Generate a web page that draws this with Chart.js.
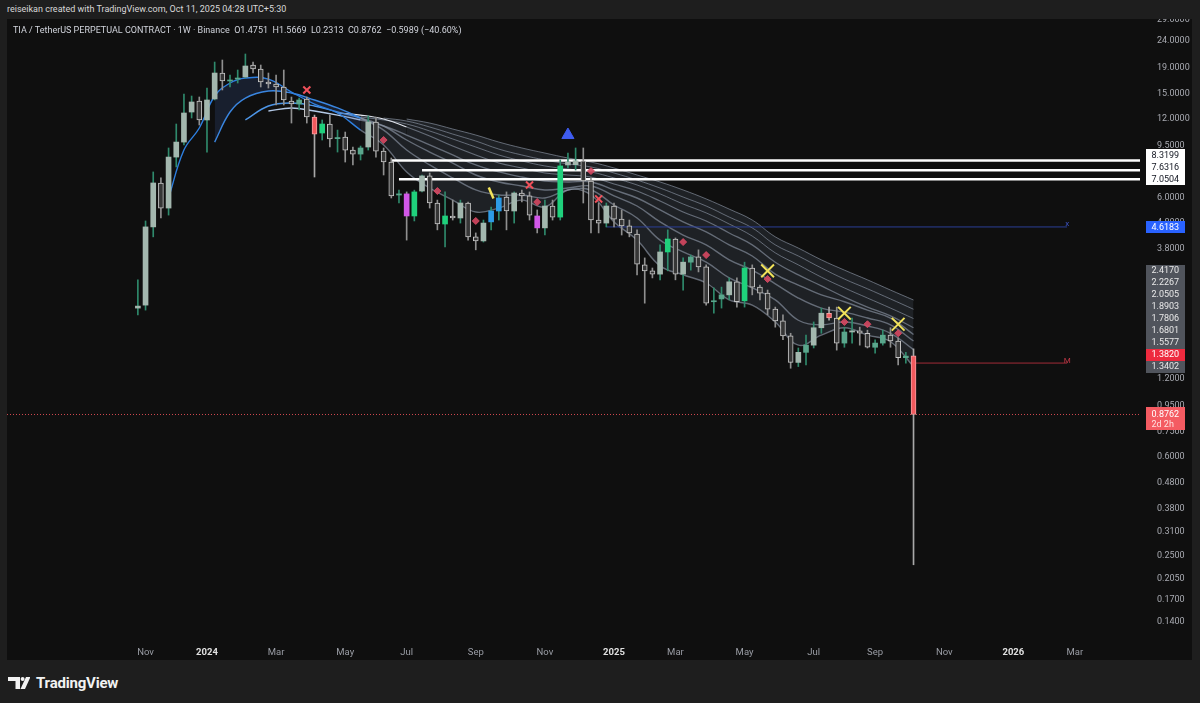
<!DOCTYPE html>
<html>
<head>
<meta charset="utf-8">
<script src="https://cdn.jsdelivr.net/npm/chart.js@4.4.1/dist/chart.umd.min.js"></script>
<style>
  html, body { margin: 0; padding: 0; width: 1200px; height: 703px; overflow: hidden; background: #1e1e1e; font-family: Roboto, "Noto Sans", sans-serif; }
  #credit { position: absolute; left: 7px; top: 4px; font-size: 9px; color: #d8d8d8; }
  #pane { position: absolute; left: 7px; top: 19px; width: 1185px; height: 641px; background: #0f0f0f; }
  #chart { position: absolute; left: 0; top: 0; }
  #legend { position: absolute; left: 6px; top: 6px; font-size: 9px; color: #d1d4dc; white-space: pre; }
  #logo { position: absolute; left: 8px; top: 674px; height: 18px; display: flex; align-items: center; }
  #logo span { margin-left: 6px; font-size: 15px; font-weight: 700; color: #f2f2f2; letter-spacing: -0.2px; }
</style>
</head>
<body>
<div id="credit">reiseikan created with TradingView.com, Oct 11, 2025 04:28 UTC+5:30</div>
<div id="pane">
  <canvas id="chart" width="1185" height="641"></canvas>
  <div id="legend"></div>
</div>
<div id="logo">
  <svg width="22" height="12" viewBox="0 0 22 12"><path d="M0 0H12V12H7.5V4H0Z" fill="#f2f2f2"/><circle cx="14.6" cy="2" r="2" fill="#f2f2f2"/><path d="M18 0H22.5L17 12H12.5Z" fill="#f2f2f2"/></svg>
  <span>TradingView</span>
</div>
<script>
// weekly bars, first one opens on this Monday
const firstBar = '2023-10-30';

const opens = [2.25, 2.31, 4.62, 6.82, 5.46, 8.58, 9.80, 12.79, 14.10, 11.92,
  14.36, 18.07, 16.84, 17.13, 17.45, 19.40, 18.73, 16.69, 16.40, 15.97,
  14.10, 13.73, 14.36, 12.24, 10.62, 11.50, 10.10, 10.25, 9.13, 8.81,
  9.38, 11.71, 9.05, 8.21, 6.13, 6.19, 5.09, 6.35, 7.26, 5.71,
  4.74, 5.09, 5.00, 5.71, 4.23, 4.08, 4.83, 5.32, 6.02, 5.32,
  6.24, 6.08, 5.09, 4.58, 5.56, 5.04, 8.00, 8.02, 8.29, 6.94,
  4.91, 4.78, 5.56, 4.95, 4.66, 4.34, 3.30, 3.13, 3.04, 3.70,
  4.15, 3.04, 3.38, 3.54, 3.24, 2.38, 2.44, 2.53, 2.84, 2.40,
  3.21, 2.71, 2.57, 2.23, 2.01, 1.76, 1.39, 1.52, 1.62, 1.89,
  2.15, 2.06, 1.65, 1.82, 1.84, 1.80, 1.59, 1.65, 1.77, 1.68,
  1.45, 1.4751];
const highs = [2.89, 4.87, 7.52, 7.13, 9.30, 11.50, 15.01, 14.74, 14.61, 15.82,
  19.92, 20.28, 17.76, 18.56, 21.39, 19.92, 19.40, 18.07, 17.76, 18.56,
  14.61, 14.48, 14.61, 12.45, 11.92, 12.45, 10.90, 10.71, 9.38, 9.46,
  12.35, 12.24, 9.30, 8.51, 6.41, 6.30, 6.40, 7.32, 7.45, 5.86,
  6.30, 5.86, 5.86, 5.76, 4.38, 4.91, 5.51, 6.13, 6.30, 6.30,
  6.41, 6.30, 5.37, 5.86, 5.86, 8.36, 8.89, 9.30, 9.30, 7.13,
  5.71, 5.71, 5.71, 5.37, 4.91, 4.50, 3.51, 3.21, 3.94, 4.50,
  4.19, 3.51, 3.60, 3.77, 3.30, 2.69, 2.71, 2.94, 2.94, 3.38,
  3.30, 2.76, 2.64, 2.27, 2.12, 1.80, 1.58, 1.77, 1.99, 2.25,
  2.27, 2.27, 1.90, 2.06, 1.90, 1.85, 1.70, 1.85, 1.89, 1.73,
  1.52, 1.5669];
const lows = [2.12, 2.21, 4.23, 5.00, 5.13, 7.86, 9.55, 12.13, 11.40, 8.97,
  14.23, 15.55, 15.97, 16.54, 17.29, 18.07, 15.97, 15.82, 13.61, 13.61,
  11.60, 13.02, 11.60, 7.19, 9.98, 9.38, 8.97, 8.21, 8.00, 8.36,
  9.13, 8.58, 7.32, 5.97, 5.71, 4.11, 4.87, 6.30, 5.46, 4.50,
  3.87, 4.91, 4.78, 4.11, 3.77, 4.04, 4.50, 4.91, 4.50, 4.78,
  5.76, 4.91, 4.38, 4.30, 4.91, 4.91, 7.79, 7.65, 5.71, 4.38,
  4.38, 4.62, 4.62, 4.30, 4.23, 3.02, 2.35, 2.94, 2.89, 3.13,
  2.89, 2.64, 3.15, 3.10, 2.31, 2.15, 2.25, 2.42, 2.27, 2.27,
  2.53, 2.42, 2.12, 1.90, 1.70, 1.32, 1.34, 1.36, 1.58, 1.80,
  2.02, 1.55, 1.59, 1.65, 1.62, 1.58, 1.51, 1.62, 1.59, 1.36,
  1.38, 0.2313];
const closes = [2.29, 4.62, 6.82, 5.46, 8.58, 9.80, 12.68, 13.98, 11.92, 14.23,
  18.07, 16.84, 16.99, 17.29, 19.23, 18.73, 16.69, 16.40, 15.97, 14.23,
  13.73, 14.23, 12.24, 10.52, 11.50, 10.07, 10.20, 9.13, 8.81, 9.30,
  11.71, 9.05, 8.21, 6.08, 6.19, 5.09, 6.30, 7.26, 5.71, 4.74,
  5.09, 5.00, 5.71, 4.23, 4.08, 4.78, 5.32, 5.97, 5.32, 6.24,
  6.08, 5.13, 4.58, 5.56, 5.04, 7.93, 8.21, 8.30, 6.94, 4.91,
  4.78, 5.56, 4.95, 4.66, 4.38, 3.32, 3.13, 3.04, 3.70, 4.15,
  3.04, 3.38, 3.54, 3.24, 2.35, 2.40, 2.53, 2.84, 2.38, 3.21,
  2.71, 2.57, 2.23, 2.01, 1.76, 1.39, 1.52, 1.62, 1.89, 2.15,
  2.06, 1.65, 1.82, 1.84, 1.80, 1.59, 1.65, 1.77, 1.68, 1.45,
  1.47, 0.8762];

// bars painted by the signal indicator
const paintedBars = { 12: 'teal', 13: 'teal', 21: 'teal', 23: 'red', 24: 'green', 26: 'teal', 29: 'teal',
  34: 'teal', 35: 'magenta', 36: 'green', 40: 'green', 46: 'blue', 47: 'blue', 52: 'magenta', 55: 'green',
  69: 'green', 72: 'teal', 75: 'teal', 76: 'teal', 79: 'green', 87: 'teal', 90: 'red', 92: 'teal',
  96: 'teal', 97: 'teal', 100: 'teal', 101: 'red' };

// moving-average ribbon, fastest (A) to slowest (H), sampled on these weeks
const ribbonWeeks = [4, 6, 8, 10, 12, 14, 17, 20, 23, 26, 29, 32, 35, 38, 41, 44, 47, 50, 53, 56,
  59, 62, 65, 68, 71, 74, 77, 80, 83, 86, 89, 92, 95, 98, 101];
const ribbonA = [5.97, 9.13, 11.10, 14.74, 16.54, 17.29, 17.13, 15.27, 13.73, 12.68, 10.90, 9.55, 7.52, 6.52, 5.86, 5.27, 5.46, 5.86, 5.51, 6.41,
  6.13, 4.83, 4.11, 3.27, 3.02, 2.81, 2.42, 2.31, 1.99, 1.62, 1.77, 1.89, 1.77, 1.67, 1.3402];
const ribbonB = [null, null, null, 9.80, 12.79, 14.48, 15.41, 15.14, 14.23, 13.26, 12.13, 10.90, 9.13, 8.00, 7.13, 6.41, 6.13, 6.13, 5.97, 6.41,
  6.41, 5.61, 5.00, 4.11, 3.70, 3.38, 2.94, 2.69, 2.42, 2.02, 1.94, 1.99, 1.92, 1.80, 1.5577];
const ribbonC = [null, null, null, null, null, 11.92, 13.49, 13.85, 13.49, 12.79, 12.13, 11.30, 9.98, 8.97, 8.14, 7.32, 6.88, 6.64, 6.41, 6.52,
  6.64, 6.08, 5.56, 4.83, 4.30, 3.94, 3.45, 3.15, 2.79, 2.46, 2.25, 2.17, 2.06, 1.94, 1.6801];
const ribbonD = [null, null, null, null, null, null, 12.90, 13.26, 12.90, 12.45, 11.92, 11.30, 10.43, 9.55, 8.74, 8.00, 7.52, 7.19, 6.94, 6.88,
  6.88, 6.41, 5.97, 5.37, 4.83, 4.42, 3.94, 3.57, 3.04, 2.76, 2.53, 2.38, 2.21, 2.06, 1.7806];
const ribbonE = [null, null, null, null, null, null, null, null, null, 12.68, 12.45, 12.02, 11.20, 10.34, 9.46, 8.74, 8.14, 7.79, 7.45, 7.32,
  7.19, 6.76, 6.35, 5.81, 5.27, 4.87, 4.38, 3.94, 3.38, 3.02, 2.74, 2.48, 2.27, 2.10, 1.8903];
const ribbonF = [null, null, null, null, null, null, null, null, null, null, 12.24, 11.92, 11.50, 10.81, 10.07, 9.38, 8.74, 8.29, 7.93, 7.72,
  7.52, 7.13, 6.70, 6.19, 5.66, 5.23, 4.74, 4.26, 3.67, 3.30, 2.96, 2.69, 2.46, 2.25, 2.0505];
const ribbonG = [null, null, null, null, null, null, null, null, null, null, null, 12.13, 11.81, 11.20, 10.52, 9.89, 9.21, 8.74, 8.36, 8.07,
  7.86, 7.45, 7.00, 6.52, 6.02, 5.56, 5.04, 4.58, 3.94, 3.57, 3.21, 2.91, 2.67, 2.44, 2.2267];
const ribbonH = [null, null, null, null, null, null, null, null, null, null, null, null, 12.02, 11.60, 11.00, 10.43, 9.80, 9.30, 8.89, 8.51,
  8.21, 7.79, 7.32, 6.88, 6.41, 5.92, 5.41, 4.91, 4.23, 3.83, 3.45, 3.15, 2.89, 2.64, 2.4170];

// drawn horizontal levels
const levelValues = [8.3199, 7.6316, 7.0504];
const levelFromWeeks = [33, 37, 34];
const blueLevel = 4.6183, blueLevelWeeks = [61, 121];
const redLevel = 1.3820, redLevelWeeks = [101, 121];
const countdown = '2d 2h';

// signal markers
const diamondWeeks = [32, 39, 44, 52, 59, 71, 74, 82, 92, 95, 99];
const diamondValues = [9.98, 6.35, 4.87, 5.76, 7.58, 4.04, 3.60, 2.91, 1.99, 1.95, 1.80];
const redCrossWeeks = [22, 51, 60];
const redCrossValues = [15.55, 6.70, 5.92];
const yellowCrossWeeks = [82, 92, 99];
const yellowCrossValues = [3.13, 2.15, 1.95];
const triangleWeeks = [56];
const triangleValues = [10.43];
const penWeeks = [46];
const penValues = [6.24];

// axes
const yTicks = [29, 24, 19, 15, 12, 9.5, 7.5, 6, 4.8, 3.8, 3.0, 2.4, 1.9, 1.5, 1.2, 0.95, 0.75, 0.6, 0.48, 0.38, 0.31, 0.25, 0.205, 0.17, 0.14];
const monthDates = ['2023-11-06', '2024-01-01', '2024-03-04', '2024-05-06', '2024-07-01', '2024-09-02', '2024-11-04',
  '2025-01-06', '2025-03-03', '2025-05-05', '2025-07-07', '2025-09-01', '2025-11-03', '2026-01-05', '2026-03-02', '2026-05-04'];
const monthLabels = ['Nov', '2024', 'Mar', 'May', 'Jul', 'Sep', 'Nov', '2025', 'Mar', 'May', 'Jul', 'Sep', 'Nov', '2026', 'Mar', 'M'];

const xMin = -17.04, xMax = 130.49;
const yMin = 0.11873, yMax = 29.17;

const WEEK = 7 * 864e5;
const monthWeeks = monthDates.map(d => Math.round((Date.parse(d) - Date.parse(firstBar)) / WEEK));
const N = closes.length;
const idx = closes.map((_, i) => i);
const last = N - 1;

const palette = {
  up:      { body: '#a3b7ae', border: '#a3b7ae', wick: '#2f8a6c', bw: 0 },
  down:    { body: '#363636', border: '#c6c6c6', wick: '#8f8f8f', bw: 1 },
  teal:    { body: '#5aa68c', border: '#5aa68c', wick: '#2f8a6c', bw: 0 },
  green:   { body: '#1fd17c', border: '#1fd17c', wick: '#2f8a6c', bw: 0 },
  red:     { body: '#f25a5e', border: '#f7a0a2', wick: '#a8a8a8', bw: 1 },
  magenta: { body: '#d257e8', border: '#d257e8', wick: '#8f8f8f', bw: 0 },
  blue:    { body: '#2d9be6', border: '#2d9be6', wick: '#2f8a6c', bw: 0 }
};
const kind = i => paintedBars[i] || (closes[i] >= opens[i] ? 'up' : 'down');

const greyLine = 'rgba(150,160,176,0.6)';
const bandFill = 'rgba(120,138,168,0.15)';
function ribbonSet(vals, earlyColor, switchWeek, earlyFill, width) {
  return {
    type: 'line',
    data: ribbonWeeks.map((w, k) => ({ x: w, y: vals[k] })),
    borderWidth: width,
    pointRadius: 0,
    tension: 0.4,
    fill: earlyFill === null ? false : '-1',
    backgroundColor: bandFill,
    order: 20,
    segment: {
      borderColor: c => c.p0.parsed.x < switchWeek ? earlyColor : greyLine,
      backgroundColor: c => c.p0.parsed.x < 29 ? earlyFill : bandFill
    }
  };
}

function hline(value, from, to, color, width, dash) {
  return {
    type: 'line',
    data: [{ x: from, y: value }, { x: to, y: value }],
    borderColor: color, borderWidth: width, borderDash: dash || [],
    pointRadius: 0, fill: false, order: 15
  };
}

function marks(weeks, values, style, radius, fillColor, strokeColor, width, rotation) {
  return {
    type: 'scatter',
    data: weeks.map((w, k) => ({ x: w, y: values[k] })),
    pointStyle: style, pointRadius: radius, pointRotation: rotation || 0,
    pointBackgroundColor: fillColor, pointBorderColor: strokeColor, pointBorderWidth: width,
    order: 1
  };
}

const datasets = [
  ribbonSet(ribbonA, '#2d7fe0', 28, null, 1.4),
  ribbonSet(ribbonB, '#3a86e0', 28, 'rgba(60,90,160,0.22)', 1.4),
  ribbonSet(ribbonC, '#4d95e6', 28, 'rgba(0,0,0,0)', 1.4),
  ribbonSet(ribbonD, '#b4c9e6', 28, 'rgba(0,0,0,0)', 1.4),
  ribbonSet(ribbonE, '#e2e6ee', 33, bandFill, 1.2),
  ribbonSet(ribbonF, greyLine, 0, bandFill, 1),
  ribbonSet(ribbonG, greyLine, 0, bandFill, 1),
  ribbonSet(ribbonH, greyLine, 0, bandFill, 1),
  ...levelValues.map((v, k) => hline(v, levelFromWeeks[k], xMax, '#ffffff', 2.5)),
  hline(blueLevel, blueLevelWeeks[0], blueLevelWeeks[1], '#2b3f96', 1),
  hline(redLevel, redLevelWeeks[0], redLevelWeeks[1], '#a12c38', 1),
  hline(closes[last], xMin, xMax, 'rgba(242,82,90,0.85)', 1, [1, 2]),
  {
    type: 'bar',
    data: idx.map(i => ({ x: i, y: [lows[i], highs[i]] })),
    backgroundColor: idx.map(i => palette[kind(i)].wick),
    borderWidth: 0, barThickness: 1, grouped: false, order: 6
  },
  {
    type: 'bar',
    data: idx.map(i => ({ x: i, y: [opens[i], closes[i]] })),
    backgroundColor: idx.map(i => palette[kind(i)].body),
    borderColor: idx.map(i => palette[kind(i)].border),
    borderWidth: idx.map(i => palette[kind(i)].bw),
    borderSkipped: false, barThickness: 5, grouped: false, minBarLength: 1, order: 5
  },
  marks(diamondWeeks, diamondValues, 'rectRot', 3.5, 'rgba(214,72,98,0.9)', 'rgba(214,72,98,0.9)', 1),
  marks(redCrossWeeks, redCrossValues, 'crossRot', 5, '#f0505a', '#f0505a', 2),
  marks(yellowCrossWeeks, yellowCrossValues, 'crossRot', 9, '#f2e35a', '#f2e35a', 2),
  marks(triangleWeeks, triangleValues, 'triangle', 7, '#3f5cf0', '#3f5cf0', 1),
  marks(penWeeks, penValues, 'line', 6, '#f2e35a', '#f2e35a', 2.5, 67)
];

const fmt = v => v.toFixed(4);
const isYearTick = c => !!(c && c.tick) && /^\d{4}$/.test(monthLabels[monthWeeks.indexOf(c.tick.value)] || '');

// price tags on the right axis, stacked upward when they collide
const tagPlugin = {
  id: 'tags',
  afterDraw(chart) {
    const { ctx, scales: { x, y } } = chart;
    const ribbonLast = [ribbonH, ribbonG, ribbonF, ribbonE, ribbonD, ribbonC, ribbonB, ribbonA].map(r => r[r.length - 1]);
    const tags = [
      ...levelValues.map(v => ({ v, bg: '#ffffff', fg: '#131722' })),
      { v: blueLevel, bg: '#2962ff', fg: '#ffffff' },
      ...ribbonLast.map(v => ({ v, bg: '#50545c', fg: '#e8e8e8' })),
      { v: redLevel, bg: '#ee2a3e', fg: '#ffffff' }
    ].sort((a, b) => b.v - a.v);
    const h = 12;
    const pos = tags.map(t => y.getPixelForValue(t.v));
    for (let k = tags.length - 2; k >= 0; k--) pos[k] = Math.min(pos[k], pos[k + 1] - h);
    const bx = chart.chartArea.right + 6, bw = 39, tx = chart.chartArea.right + 11.5;
    ctx.save();
    ctx.font = '9px Roboto, "Noto Sans", sans-serif';
    ctx.textBaseline = 'middle';
    tags.forEach((t, k) => {
      ctx.fillStyle = t.bg;
      ctx.fillRect(bx, Math.round(pos[k] - h / 2), bw, h);
      ctx.fillStyle = t.fg;
      ctx.fillText(fmt(t.v), tx, pos[k] + 0.5);
    });
    // last close with countdown
    const py = y.getPixelForValue(closes[last]);
    ctx.fillStyle = '#f45b62';
    ctx.fillRect(bx, Math.round(py - 7), bw, 23);
    ctx.fillStyle = '#ffffff';
    ctx.fillText(fmt(closes[last]), tx, py + 0.5);
    ctx.fillStyle = '#ffe0e0';
    ctx.fillText(countdown, tx, py + 10.5);
    // little captions at the end of the drawn lines
    ctx.font = '8px Roboto, sans-serif';
    ctx.textAlign = 'center';
    ctx.fillStyle = '#3e56c8';
    ctx.fillText('x', x.getPixelForValue(blueLevelWeeks[1]), y.getPixelForValue(blueLevel) - 3);
    ctx.fillStyle = '#c03846';
    ctx.fillText('M', x.getPixelForValue(redLevelWeeks[1]), y.getPixelForValue(redLevel) - 2);
    ctx.restore();
  }
};

const change = closes[last] - opens[last];
document.getElementById('legend').textContent =
  'TIA / TetherUS PERPETUAL CONTRACT · 1W · Binance  O' + fmt(opens[last]) + '  H' + fmt(highs[last]) +
  '  L' + fmt(lows[last]) + '  C' + fmt(closes[last]) + '  −' + fmt(Math.abs(change)) +
  ' (−' + (Math.abs(change) / opens[last] * 100).toFixed(2) + '%)';

new Chart(document.getElementById('chart'), {
  type: 'bar',
  data: { datasets },
  options: {
    responsive: false,
    animation: false,
    devicePixelRatio: 1,
    layout: { padding: 0, autoPadding: false },
    plugins: { legend: { display: false }, tooltip: { enabled: false } },
    scales: {
      x: {
        type: 'linear', min: xMin, max: xMax, offset: false, bounds: 'data',
        grid: { display: false, drawTicks: false }, border: { display: false },
        afterBuildTicks: s => { s.ticks = monthWeeks.filter(w => w >= xMin && w <= xMax).map(w => ({ value: w })); },
        afterFit: s => { s.height = 20; s.paddingLeft = 0; s.paddingRight = 0; },
        ticks: {
          autoSkip: false, maxRotation: 0, padding: 7,
          callback: v => monthLabels[monthWeeks.indexOf(v)],
          color: c => isYearTick(c) ? '#e0e0e0' : '#9a9da5',
          font: c => ({ family: 'Roboto', size: 9.5, weight: isYearTick(c) ? 'bold' : 'normal' })
        }
      },
      y: {
        type: 'logarithmic', position: 'right', min: yMin, max: yMax, bounds: 'data',
        grid: { display: false }, border: { display: false },
        afterBuildTicks: s => { s.ticks = yTicks.filter(v => v >= yMin && v <= yMax).map(v => ({ value: v })); },
        afterFit: s => { s.width = 52; s.paddingTop = 0; s.paddingBottom = 0; },
        ticks: { padding: 9, color: '#a9abb2', font: { family: 'Roboto', size: 9 }, callback: v => fmt(v) }
      }
    }
  },
  plugins: [tagPlugin]
});
</script>
</body>
</html>
